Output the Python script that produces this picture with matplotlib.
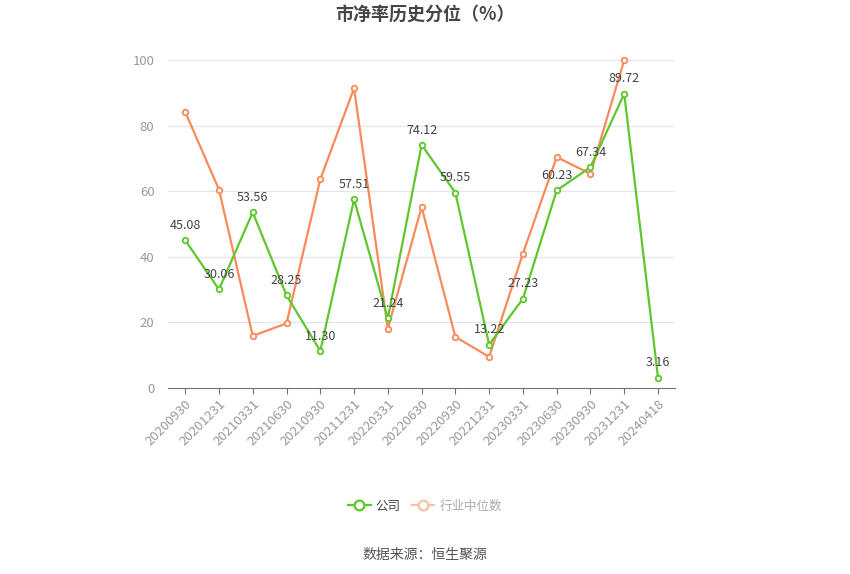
import matplotlib
matplotlib.use("Agg")
import matplotlib.pyplot as plt
from matplotlib.lines import Line2D

plt.rcParams['font.family'] = ['Noto Sans CJK SC', 'DejaVu Sans']

# data
dates = ["20200930", "20201231", "20210331", "20210630", "20210930",
         "20211231", "20220331", "20220630", "20220930", "20221231",
         "20230331", "20230630", "20230930", "20231231", "20240418"]
company = [45.08, 30.06, 53.56, 28.25, 11.30, 57.51, 21.24, 74.12,
           59.55, 13.22, 27.23, 60.23, 67.34, 89.72, 3.16]
industry = [84.2, 60.5, 15.9, 19.7, 63.6, 91.4, 18.1, 55.2,
            15.6, 9.5, 41.0, 70.4, 65.3, 100.0]

green = '#5ec72c'
orange = '#fb8a5a'

fig = plt.figure(figsize=(8.5, 5.74), dpi=100)
ax = fig.add_axes([0.198, 0.324, 0.596, 0.5715])

x = list(range(len(dates)))
ax.plot(x[:len(industry)], industry, color=orange, lw=1.6, marker='o', ms=4,
        mfc='white', mec=orange, mew=1.3, zorder=3, clip_on=False)
ax.plot(x, company, color=green, lw=1.6, marker='o', ms=4,
        mfc='white', mec=green, mew=1.3, zorder=4, clip_on=False)

for xi, v in zip(x, company):
    ax.annotate(f"{v:.2f}", (xi, v), xytext=(0, 6), textcoords='offset points',
                ha='center', va='bottom', fontsize=9, color='#444444', zorder=5)

ax.set_xlim(-0.5, len(dates) - 0.5)
ax.set_ylim(0, 100)
ax.set_yticks([0, 20, 40, 60, 80, 100])
ax.set_xticks(x)
ax.set_xticklabels(dates, rotation=45, ha='right', rotation_mode='anchor')
ax.tick_params(axis='x', colors='#6e7079', length=4, labelcolor='#999999', labelsize=9.5, pad=3)
ax.tick_params(axis='y', length=0, labelcolor='#999999', labelsize=9.5, pad=10)
ax.grid(axis='y', color='#e0e6f1', lw=0.8)
ax.set_axisbelow(True)
for s in ['top', 'right', 'left']:
    ax.spines[s].set_visible(False)
ax.spines['bottom'].set_color('#6e7079')

fig.text(0.5, 0.973, "市净率历史分位（%）", ha='center', va='center',
         fontsize=13, fontweight='bold', color='#464646')

handles = [Line2D([], [], color=green, lw=1.6, marker='o', ms=7, mfc='white', mec=green, mew=1.6),
           Line2D([], [], color='#fbc0a6', lw=1.6, marker='o', ms=7, mfc='white', mec='#fbc0a6', mew=1.6)]
leg = fig.legend(handles, ["公司", "行业中位数"], loc='center', bbox_to_anchor=(0.5, 0.118),
                 ncol=2, frameon=False, fontsize=9, handlelength=1.8, columnspacing=0.9,
                 handletextpad=0.4)
leg.get_texts()[0].set_color('#444444')
leg.get_texts()[1].set_color('#aaaaaa')

fig.text(0.5, 0.033, "数据来源：恒生聚源", ha='center', va='center', fontsize=10, color='#555555')

fig.savefig("out.png", dpi=100)
